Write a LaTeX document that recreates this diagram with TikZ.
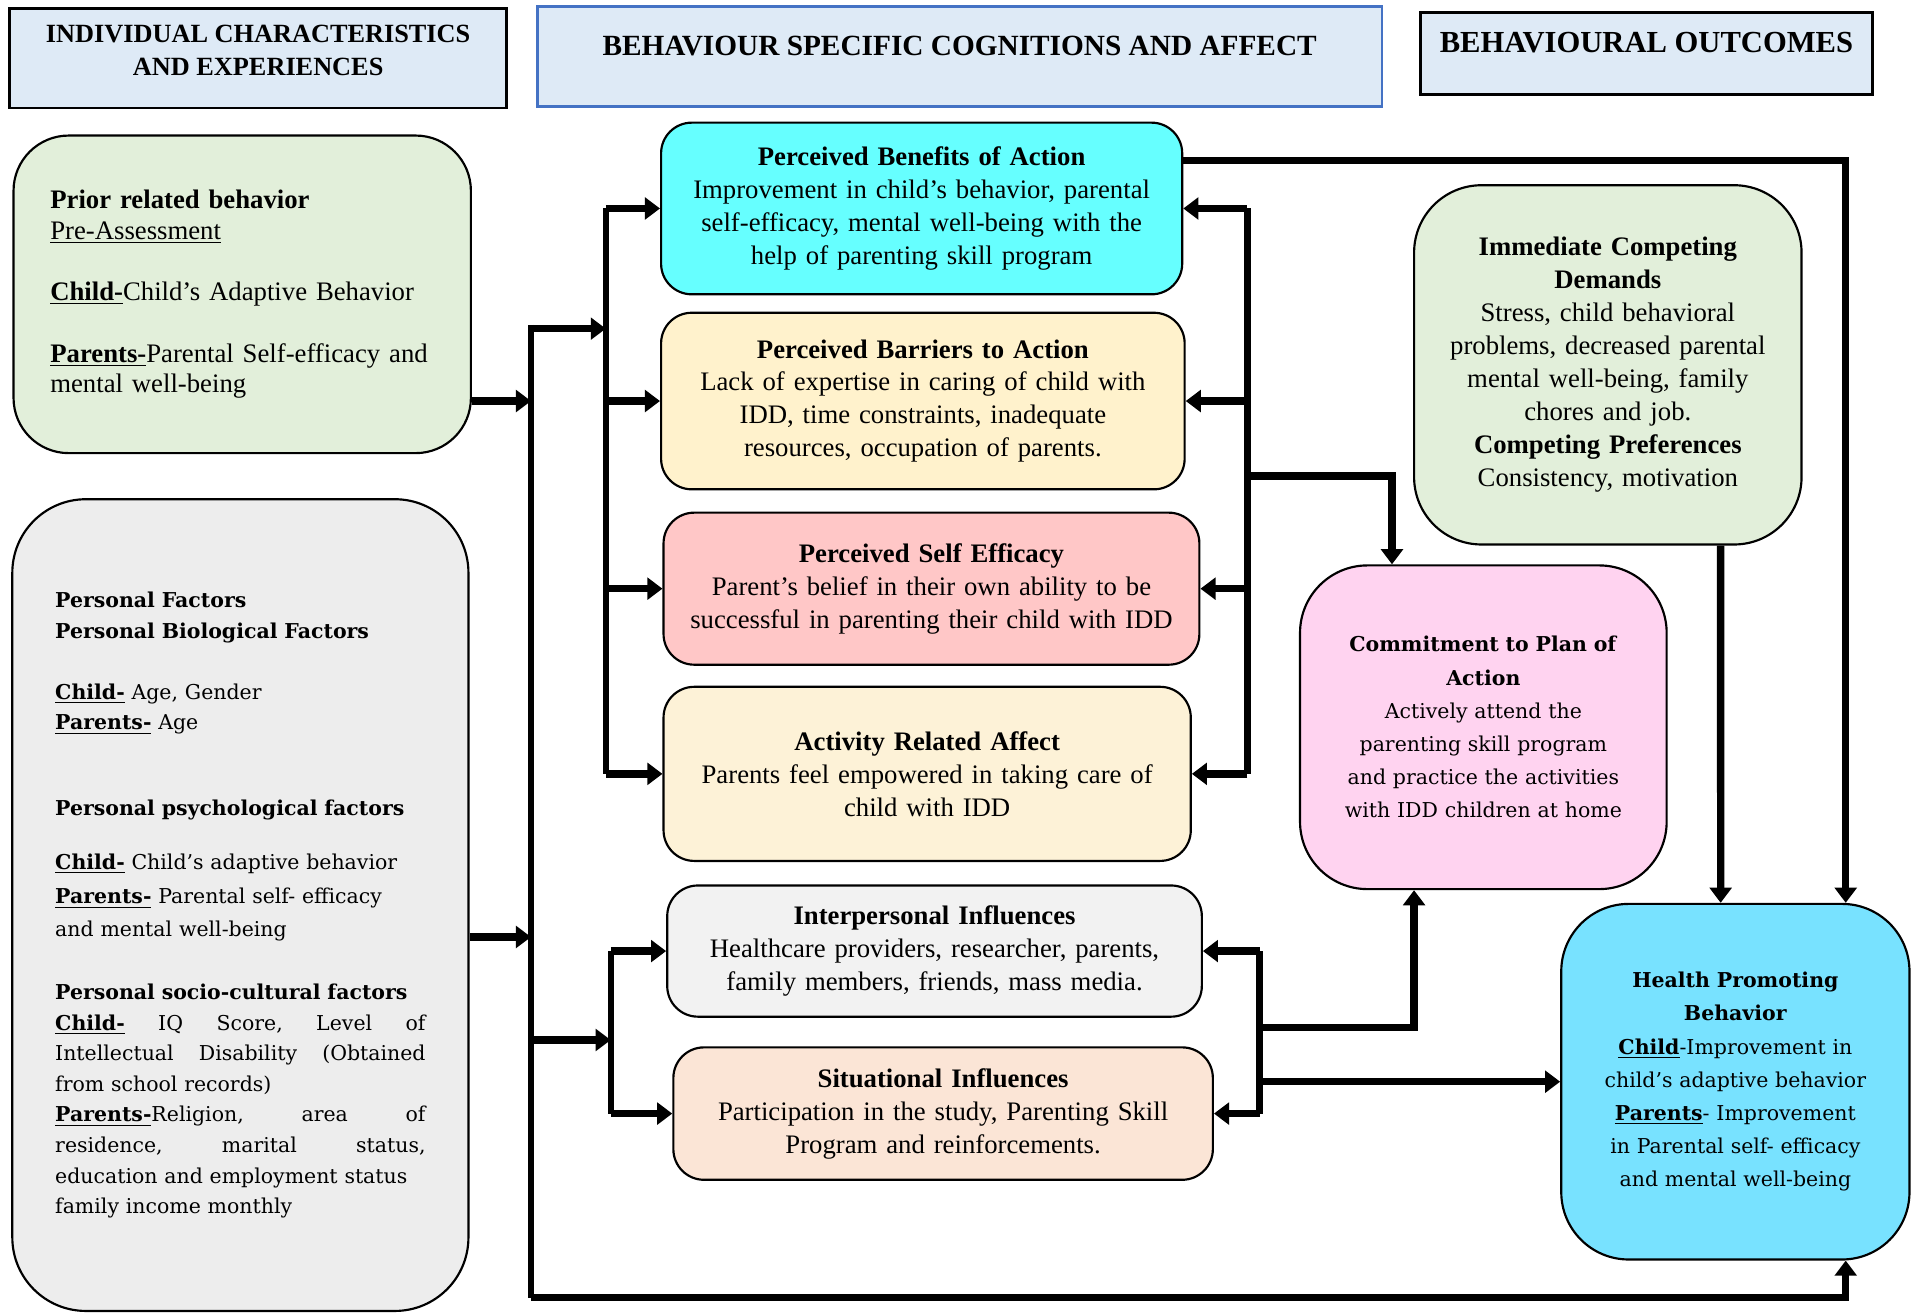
\documentclass[tikz,border=0pt]{standalone}
\usepackage{fontspec}
\setmainfont{Liberation Serif}
\newfontfamily\schoolfont[Ligatures=TeX]{DejaVu Serif}
\usepackage{tikz}
\usetikzlibrary{arrows.meta, positioning, calc}
\definecolor{hdrblue}{RGB}{222,234,246}
\definecolor{hdrline}{RGB}{68,114,196}
\definecolor{sage}{RGB}{226,239,218}
\definecolor{pale}{RGB}{237,237,237}
\definecolor{aqua}{RGB}{102,255,255}
\definecolor{cream}{RGB}{255,242,204}
\definecolor{rosy}{RGB}{255,199,199}
\definecolor{wheatish}{RGB}{253,242,215}
\definecolor{mist}{RGB}{242,242,242}
\definecolor{peach}{RGB}{251,229,214}
\definecolor{pinkbox}{RGB}{255,211,240}
\definecolor{skyblue}{RGB}{120,226,255}
\newcommand{\ubf}[1]{\underline{\textbf{#1}}}

\begin{document}
\begin{tikzpicture}[x=0.02cm, y=-0.02cm,
  hdr/.style={draw, line width=1.3pt, fill=hdrblue, align=center, inner sep=2pt},
  rbox/.style={draw, line width=1pt, rounded corners=0.5cm, align=center, inner xsep=0.2cm, font=\fontsize{12.4}{15.3}\selectfont},
  bigbox/.style={rbox, rounded corners=1.1cm},
  wire/.style={line width=3pt},
  arr/.style={line width=3.4pt, -{Triangle[width=10pt,length=7pt]}}
]
  \useasboundingbox (0,0) rectangle (1568,1071);

  % column headers
  \node[hdr, minimum width=8.1cm, minimum height=1.62cm, text depth=0.27cm, font=\bfseries\fontsize{12.2}{15.4}\selectfont] (hdrind) at (210.5,47.5) {INDIVIDUAL CHARACTERISTICS\\AND EXPERIENCES};
  \node[hdr, draw=hdrline, minimum width=13.78cm, minimum height=1.64cm, text depth=0.34cm, font=\bfseries\fontsize{13.6}{15.4}\selectfont] (hdrcog) at (782.5,46) {BEHAVIOUR SPECIFIC COGNITIONS AND AFFECT};
  \node[hdr, minimum width=7.38cm, minimum height=1.34cm, text depth=0.36cm, font=\bfseries\fontsize{14.2}{15.4}\selectfont] (hdrout) at (1342.5,43.5) {BEHAVIOURAL OUTCOMES};

  % individual characteristics
  \node[bigbox, rounded corners=0.9cm, fill=sage, align=left, inner xsep=0.6cm, text width=6.26cm, minimum height=5.18cm, font=\fontsize{12.4}{14.2}\selectfont] (prior) at (197.5,240) {
    \textbf{Prior related behavior}\\
    \underline{Pre-Assessment}\\[14pt]
    \ubf{Child-}Child's Adaptive Behavior\\[14.5pt]
    \ubf{Parents-}Parental Self-efficacy and\\
    mental well-being};
  \node[bigbox, rounded corners=1.2cm, fill=pale, align=left, inner xsep=0.7cm, text width=6.04cm, minimum height=13.24cm, font=\schoolfont\fontsize{9.5}{14.2}\selectfont] (personal) at (196,738) {
    \textbf{Personal Factors}\\
    \textbf{Personal Biological Factors}\\[14.2pt]
    \ubf{Child-} Age, Gender\\
    \ubf{Parents-} Age\\[25.6pt]
    \textbf{Personal psychological factors}\\[10.8pt]
    \ubf{Child-} Child's adaptive behavior\\[1.7pt]
    \ubf{Parents-} Parental self- efficacy\\[1.2pt]
    and mental well-being\\[14.8pt]
    \textbf{Personal socio-cultural factors}\\
    \ubf{Child-}\hfill IQ\hfill Score,\hfill Level\hfill of\\
    Intellectual\hfill Disability\hfill (Obtained\\
    from school records)\\
    \ubf{Parents-}Religion,\hfill area\hfill of\\
    residence,\hfill marital\hfill status,\\
    education and employment status\\
    family income monthly};

  % behaviour specific cognitions
  \node[rbox, fill=aqua, text width=8.1cm, minimum height=2.8cm] (benefits) at (751.5,170) {\textbf{Perceived Benefits of Action}\\Improvement in child's behavior, parental\\self-efficacy, mental well-being with the\\help of parenting skill program};
  \node[rbox, fill=cream, text width=8.14cm, minimum height=2.88cm] (barriers) at (752.5,327) {\textbf{Perceived Barriers to Action}\\Lack of expertise in caring of child with\\IDD, time constraints, inadequate\\resources, occupation of parents.};
  \node[rbox, fill=rosy, text width=8.34cm, minimum height=2.48cm] (selfeff) at (759.5,480) {\textbf{Perceived Self Efficacy}\\Parent's belief in their own ability to be\\successful in parenting their child with IDD};
  \node[rbox, fill=wheatish, text width=8.2cm, minimum height=2.84cm] (activity) at (756,631) {\textbf{Activity Related Affect}\\Parents feel empowered in taking care of\\child with IDD};
  \node[rbox, fill=mist, text width=8.32cm, minimum height=2.14cm] (inter) at (762,775.5) {\textbf{Interpersonal Influences}\\Healthcare providers, researcher, parents,\\family members, friends, mass media.};
  \node[rbox, fill=peach, text width=8.4cm, minimum height=2.16cm] (situ) at (769,908) {\textbf{Situational Influences}\\Participation in the study, Parenting Skill\\Program and reinforcements.};

  % outcomes
  \node[bigbox, fill=sage, text width=5.92cm, minimum height=5.86cm] (immediate) at (1311,297.5) {\textbf{Immediate Competing}\\\textbf{Demands}\\Stress, child behavioral\\problems, decreased parental\\mental well-being, family\\chores and job.\\\textbf{Competing Preferences}\\Consistency, motivation};
  \node[bigbox, fill=pinkbox, text width=5.58cm, minimum height=5.28cm, font=\schoolfont\fontsize{9.5}{15.4}\selectfont] (commit) at (1209.5,593) {\textbf{Commitment to Plan of}\\\textbf{Action}\\Actively attend the\\parenting skill program\\and practice the activities\\with IDD children at home};
  \node[bigbox, fill=skyblue, text width=5.28cm, minimum height=5.8cm, font=\schoolfont\fontsize{9.5}{15.4}\selectfont] (health) at (1415,882) {\textbf{Health Promoting}\\\textbf{Behavior}\\\ubf{Child}-Improvement in\\child's adaptive behavior\\\ubf{Parents}- Improvement\\in Parental self- efficacy\\and mental well-being};

  % junction points
  \coordinate (trunkL) at (433,265);
  \coordinate (trunkLb) at (433,1058);
  \coordinate (priorin) at (433,327);
  \coordinate (persin) at (433,764);
  \coordinate (trunkM) at (494,268);
  \coordinate (trunkS) at (498,848);
  \coordinate (trunkR) at (1017,388);
  \coordinate (trunkRs) at (1027,838);

  % left side feeds
  \draw[wire] (trunkL) -- (trunkLb);
  \draw[arr] (prior.east |- priorin) -- (priorin);
  \draw[arr] (personal.east |- persin) -- (persin);
  \draw[arr] (trunkL |- trunkM) -- (trunkM);
  \draw[wire] (benefits.west -| trunkM) -- (activity.west -| trunkM);
  \foreach \n in {benefits, barriers, selfeff, activity}
    \draw[arr] (\n.west -| trunkM) -- (\n.west);
  \draw[arr] (trunkL |- trunkS) -- (trunkS);
  \draw[wire] (inter.west -| trunkS) -- (situ.west -| trunkS);
  \foreach \n in {inter, situ}
    \draw[arr] (\n.west -| trunkS) -- (\n.west);
  \draw[arr] (trunkLb) -| ([xshift=1.8cm]health.south);

  % right side feeds
  \draw[wire] (benefits.east -| trunkR) -- (activity.east -| trunkR);
  \foreach \n in {benefits, barriers, selfeff, activity}
    \draw[arr] (\n.east -| trunkR) -- (\n.east);
  \draw[arr] (trunkR) -| ([xshift=-1.49cm]commit.north);
  \draw[wire] (inter.east -| trunkRs) -- (situ.east -| trunkRs);
  \foreach \n in {inter, situ}
    \draw[arr] (\n.east -| trunkRs) -- (\n.east);
  \draw[arr] (trunkRs) -| ([xshift=-1.13cm]commit.south);
  \draw[arr] (trunkRs |- health.west) -- (health.west);

  % to outcome
  \draw[arr] ([yshift=0.78cm]benefits.east) -| ([xshift=1.8cm]health.north);
  \draw[arr] ([xshift=1.84cm]immediate.south) -- ([xshift=-0.24cm]health.north);
\end{tikzpicture}
\end{document}
